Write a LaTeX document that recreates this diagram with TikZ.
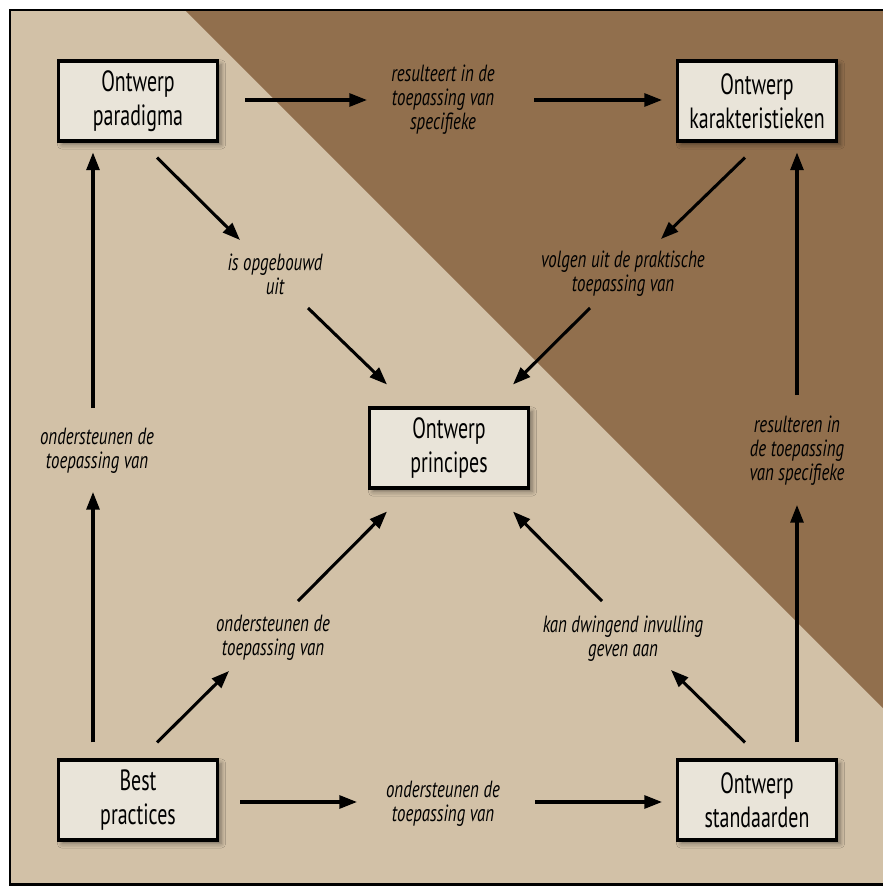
\documentclass[tikz,border=0pt]{standalone}
\usepackage{fontspec}
\newfontfamily\vakfont[FakeStretch=0.68]{PT Sans}
\newfontfamily\labelfont[FakeStretch=0.72]{PT Sans}
\usetikzlibrary{arrows.meta,shadows.blur}
\definecolor{zandlicht}{HTML}{D2C1A7}
\definecolor{zanddonker}{HTML}{916F4D}
\definecolor{vakvulling}{HTML}{E9E4D9}
\begin{document}
\begin{tikzpicture}[x=0.03cm,y=-0.03cm,
    vak/.style={draw=black,line width=2.6pt,fill=vakvulling,
        minimum width=4.77cm,minimum height=2.4cm,align=center,
        text=black,font=\vakfont\fontsize{25}{29}\selectfont,
        blur shadow={shadow xshift=3pt,shadow yshift=-3pt,
            shadow blur radius=4pt,shadow opacity=45}},
    lbl/.style={align=center,inner sep=0pt,text=black,
        font=\labelfont\itshape\fontsize{20}{20.5}\selectfont},
    pijl/.style={line width=2.6pt,-{Triangle[length=15pt,width=11pt]}}]
    % achtergrond
    \useasboundingbox (0,0) rectangle (882,887);
    \fill[white] (0,0) rectangle (882,887);
    \fill[zandlicht] (10,10) rectangle (885,885);
    \fill[zanddonker] (185,10) -- (885,10) -- (885,710) -- cycle;
    \draw[line width=2.55pt] (10,10) rectangle (885,884.5);
    % vakken
    \node[vak] (paradigma) at (138,101) {Ontwerp\\paradigma};
    \node[vak] (karakter) at (757,101) {Ontwerp\\karakteristieken};
    \node[vak] (principes) at (449,448) {Ontwerp\\principes};
    \node[vak] (best) at (138,800) {Best\\practices};
    \node[vak] (standaarden) at (757,800) {Ontwerp\\standaarden};
    % teksten bij de pijlen
    \node[lbl] (lResulteert) at (443,100) {resulteert in de\\toepassing van\\specifieke};
    \node[lbl] (lOpgebouwd) at (275,274) {is opgebouwd\\uit};
    \node[lbl] (lVolgen) at (623,274) {volgen uit de praktische\\toepassing van};
    \node[lbl] (lLinks) at (97,451) {ondersteunen de\\toepassing van};
    \node[lbl] (lRechts) at (797,451) {resulteren in\\de toepassing\\van specifieke};
    \node[lbl] (lBestPr) at (273,638) {ondersteunen de\\toepassing van};
    \node[lbl] (lDwingend) at (623,639) {kan dwingend invulling\\geven aan};
    \node[lbl] (lOnder) at (443,804) {ondersteunen de\\toepassing van};
    % pijlen
    \draw[pijl] ([shift={(26,-1)}]paradigma.east) -- ([shift={(-76,0)}]lResulteert.center);
    \draw[pijl] ([shift={(91,0)}]lResulteert.center) -- ([shift={(-14,-1)}]karakter.west);
    \draw[pijl] ([shift={(19,15)}]paradigma.south) -- ([shift={(-35,-34)}]lOpgebouwd.center);
    \draw[pijl] ([shift={(33,34)}]lOpgebouwd.center) -- ([shift={(19,-22)}]principes.north west);
    \draw[pijl] ([shift={(-12,15)}]karakter.south) -- ([shift={(38,-35)}]lVolgen.center);
    \draw[pijl] ([shift={(-33,34)}]lVolgen.center) -- ([shift={(-17,-22)}]principes.north east);
    \draw[pijl] ([shift={(-45,-16)}]best.north) -- ([shift={(-4,41)}]lLinks.center);
    \draw[pijl] ([shift={(-4,-43)}]lLinks.center) -- ([shift={(-45,10)}]paradigma.south);
    \draw[pijl] ([shift={(40,-16)}]standaarden.north) -- ([shift={(0,54)}]lRechts.center);
    \draw[pijl] ([shift={(0,-56)}]lRechts.center) -- ([shift={(40,10)}]karakter.south);
    \draw[pijl] ([shift={(19,-16)}]best.north) -- ([shift={(-44,33)}]lBestPr.center);
    \draw[pijl] ([shift={(25,-37)}]lBestPr.center) -- ([shift={(19,22)}]principes.south west);
    \draw[pijl] ([shift={(-12,-16)}]standaarden.north) -- ([shift={(48,31)}]lDwingend.center);
    \draw[pijl] ([shift={(-21,-38)}]lDwingend.center) -- ([shift={(-17,22)}]principes.south east);
    \draw[pijl] ([shift={(21,2)}]best.east) -- ([shift={(-86,-2)}]lOnder.center);
    \draw[pijl] ([shift={(92,-2)}]lOnder.center) -- ([shift={(-14,2)}]standaarden.west);
\end{tikzpicture}
\end{document}
